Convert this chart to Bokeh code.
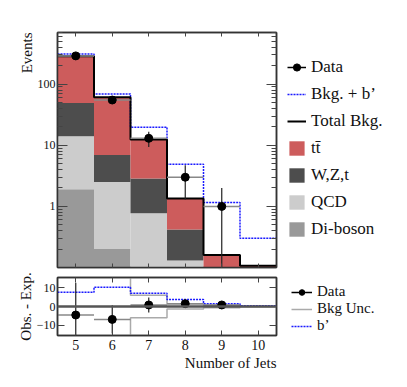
from bokeh.plotting import figure
from bokeh.models import (FixedTicker, LogAxis, LinearAxis, Legend, LegendItem,
                          Title, Span, Range1d, BasicTickFormatter)
from bokeh.layouts import column, row
from bokeh.embed import file_html
from bokeh.resources import INLINE

# ---------------- data ----------------
bins = [5, 6, 7, 8, 9, 10]
edges = [4.5, 5.5, 6.5, 7.5, 8.5, 9.5, 10.5]
diboson = [1.9, 0.2, 0.0, 0.0, 0.0, 0.0]
qcd = [12.1, 2.3, 0.77, 0.13, 0.0, 0.0]
wzt = [35.0, 4.4, 2.1, 0.29, 0.0, 0.0]
ttbar = [238.0, 54.0, 9.6, 0.93, 0.16, 0.107]
bkg_plus_bprime = [310.0, 69.0, 19.7, 4.9, 1.16, 0.30]

data_bins = [5, 6, 7, 8, 9]
data = [290, 55, 13, 3, 1]
data_err = [17.0, 7.4, 3.6, 1.7, 1.0]

diff_data = [-4.5, -6.8, 0.8, 1.5, 0.8]
diff_err = [17.0, 7.4, 3.9, 1.7, 1.0]
bprime_diff = [7.5, 10.2, 7.0, 3.7, 1.4, 0.4]
bkg_unc = [20.0, 20.0, 6.0, 1.3, 0.7, 0.1]

y_tick_vals = [1, 10, 100]
ratio_tick_vals = [-10, 0, 10]

# ---------------- style ----------------
FONT = "Liberation Serif"
C_TT = "#cd5c5c"
C_WZT = "#4d4d4d"
C_QCD = "#cccccc"
C_DIB = "#999999"
C_BP = "#1a1aff"
C_UNC = "#aaaaaa"
FLOOR = 1e-3
MAIN_W = 284
LEG_W = 107
TOP_H = 272
BOT_H = 107

lefts = edges[:-1]
rights = edges[1:]


def style_axis(ax, ticks, labels=True, tick_in=8, minor_in=4, size="13px", standoff=3):
    ax.major_tick_in = tick_in
    ax.major_tick_out = 0
    ax.minor_tick_in = minor_in
    ax.minor_tick_out = 0
    ax.major_tick_line_color = "#444444"
    ax.minor_tick_line_color = "#444444"
    ax.axis_line_color = "#333333"
    ax.axis_line_width = 1.5
    ax.major_label_text_font = FONT
    ax.major_label_text_color = "#111111"
    ax.major_label_standoff = standoff
    ax.major_label_text_font_size = size
    if not labels:
        ax.major_label_standoff = 0
        ax.major_label_text_font_size = "1px"
        ax.major_label_overrides = {t: "" for t in ticks}


def make_title(text, align, standoff=0):
    return Title(text=text, align=align, text_font=FONT, text_font_size="15px",
                 text_font_style="normal", text_color="#111111", standoff=standoff)


# ---------------- top panel ----------------
top = figure(width=MAIN_W, height=TOP_H, x_range=Range1d(4.5, 10.5), y_range=Range1d(0.1, 700),
             y_axis_type="log", output_backend="svg", toolbar_location=None,
             min_border_left=57, min_border_right=8, min_border_top=32, min_border_bottom=5)
top.grid.visible = False
top.outline_line_color = "#333333"
top.outline_line_width = 1.5

minor_log = [m * 10 ** k for k in range(-1, 3) for m in range(2, 10)]
top.yaxis.ticker = FixedTicker(ticks=y_tick_vals, minor_ticks=minor_log)
top.yaxis.formatter = BasicTickFormatter()
style_axis(top.yaxis[0], y_tick_vals, labels=True, tick_in=10, minor_in=5, size="12px", standoff=2)
top.xaxis.ticker = FixedTicker(ticks=bins)
style_axis(top.xaxis[0], bins, labels=False, tick_in=4, minor_in=0)
top.xaxis.minor_tick_line_color = None

ax_r = LogAxis(ticker=FixedTicker(ticks=y_tick_vals, minor_ticks=minor_log))
style_axis(ax_r, y_tick_vals, labels=False, tick_in=10, minor_in=5)
top.add_layout(ax_r, "right")
ax_t = LinearAxis(ticker=FixedTicker(ticks=bins))
style_axis(ax_t, bins, labels=False, tick_in=4, minor_in=0)
ax_t.minor_tick_line_color = None
top.add_layout(ax_t, "above")
top.add_layout(make_title("Events", "right", 0), "left")

# stacked histograms
cum = [0.0] * 6
stack_specs = [("Di-boson", diboson, C_DIB), ("QCD", qcd, C_QCD),
               ("W,Z,t", wzt, C_WZT), ("tt\u0304", ttbar, C_TT)]
stack_edges = []
for name, vals, col in stack_specs:
    bottoms = [max(c, FLOOR) for c in cum]
    cum = [c + v for c, v in zip(cum, vals)]
    tops = [max(c, FLOOR) for c in cum]
    stack_edges.append((name, col, bottoms, tops))
    top.quad(left=lefts, right=rights, bottom=bottoms, top=tops,
             fill_color=col, line_color=None)
total_bkg = cum

top.step(edges, bkg_plus_bprime + [bkg_plus_bprime[-1]], mode="after",
         line_color=C_BP, line_width=1.5, line_dash="2 1")
top.step(edges, total_bkg + [total_bkg[-1]], mode="after",
         line_color="black", line_width=2)

top.segment(x0=[b - 0.5 for b in data_bins], x1=[b + 0.5 for b in data_bins],
            y0=data, y1=data, line_color="#888888", line_width=1.5)
top.segment(x0=data_bins, x1=data_bins,
            y0=[max(d - e, FLOOR) for d, e in zip(data, data_err)],
            y1=[d + e for d, e in zip(data, data_err)],
            line_color="#222222", line_width=1.2)
top.scatter(data_bins, data, size=8, color="black")

# ---------------- ratio panel ----------------
bot = figure(width=MAIN_W, height=BOT_H, x_range=top.x_range, y_range=Range1d(-15.3, 15.3),
             output_backend="svg", toolbar_location=None,
             min_border_left=57, min_border_right=8, min_border_top=5, min_border_bottom=44)
bot.grid.visible = False
bot.outline_line_color = "#333333"
bot.outline_line_width = 1.5
bot.xaxis.ticker = FixedTicker(ticks=bins)
style_axis(bot.xaxis[0], bins, labels=True, tick_in=5, minor_in=0, size="14px", standoff=4)
bot.xaxis.minor_tick_line_color = None
bot.yaxis.ticker = FixedTicker(ticks=ratio_tick_vals)
style_axis(bot.yaxis[0], ratio_tick_vals, labels=True, tick_in=7, minor_in=0, size="12px", standoff=2)
bot.yaxis.minor_tick_line_color = None
b_r = LinearAxis(ticker=FixedTicker(ticks=ratio_tick_vals))
style_axis(b_r, ratio_tick_vals, labels=False, tick_in=7, minor_in=0)
b_r.minor_tick_line_color = None
bot.add_layout(b_r, "right")
b_t = LinearAxis(ticker=FixedTicker(ticks=bins))
style_axis(b_t, bins, labels=False, tick_in=5, minor_in=0)
b_t.minor_tick_line_color = None
bot.add_layout(b_t, "above")
bot.add_layout(make_title("Obs. - Exp.", "center", 0), "left")
bot.add_layout(make_title("Number of Jets", "right", 0), "below")

bot.add_layout(Span(location=0, dimension="width", line_color="#555555", line_width=2.5))
bot.step(edges, bkg_unc + [bkg_unc[-1]], mode="after", line_color=C_UNC, line_width=1.5)
bot.step(edges, [-u for u in bkg_unc] + [-bkg_unc[-1]], mode="after",
         line_color=C_UNC, line_width=1.5)
bot.step(edges, bprime_diff + [bprime_diff[-1]], mode="after",
         line_color=C_BP, line_width=1.5, line_dash="2 1")
bot.segment(x0=[b - 0.5 for b in data_bins], x1=[b + 0.5 for b in data_bins],
            y0=diff_data, y1=diff_data, line_color="#888888", line_width=1.5)
bot.segment(x0=data_bins, x1=data_bins,
            y0=[d - e for d, e in zip(diff_data, diff_err)],
            y1=[d + e for d, e in zip(diff_data, diff_err)],
            line_color="#222222", line_width=1.2)
bot.scatter(data_bins, diff_data, size=8, color="black")


# ---------------- legend panels ----------------
# The legend panels reuse the same series, drawn outside their view,
# so only the legend swatches are visible.
def legend_fig(h, top_border, left_border):
    f = figure(width=LEG_W, height=h, x_range=Range1d(-1, 0), y_range=Range1d(-1, 0),
               output_backend="svg", toolbar_location=None,
               x_axis_location=None, y_axis_location=None,
               min_border_left=left_border, min_border_right=0,
               min_border_top=top_border, min_border_bottom=0)
    f.grid.visible = False
    f.outline_line_color = None
    return f


LEG_STYLE = dict(border_line_color=None, background_fill_alpha=0, label_text_font=FONT,
                 label_text_color="#111111", padding=0, margin=0)

lt = legend_fig(TOP_H, 57, 3)
l_dat_line = lt.line(data_bins, data, line_color="black", line_width=1.5)
l_dat_pt = lt.scatter(data_bins, data, size=8, color="black")
l_bp = lt.line(bins, bkg_plus_bprime, line_color=C_BP, line_width=1.5, line_dash="2 1")
l_tot = lt.line(bins, total_bkg, line_color="black", line_width=2)
items = [LegendItem(label="Data", renderers=[l_dat_line, l_dat_pt]),
         LegendItem(label="Bkg. + b\u2019", renderers=[l_bp]),
         LegendItem(label="Total Bkg.", renderers=[l_tot])]
for name, col, bottoms, tops in reversed(stack_edges):
    r = lt.quad(left=lefts, right=rights, bottom=bottoms, top=tops,
                fill_color=col, line_color=None)
    items.append(LegendItem(label=name, renderers=[r]))
lt.add_layout(Legend(items=items, location="top_left", glyph_width=19, glyph_height=18,
                     label_height=20, spacing=7, label_standoff=5,
                     label_text_font_size="17px", **LEG_STYLE))

lb = legend_fig(BOT_H, 0, 0)
lb_dat_line = lb.line(data_bins, diff_data, line_color="black", line_width=1.5)
lb_dat_pt = lb.scatter(data_bins, diff_data, size=8, color="black")
lb_unc = lb.line(bins, bkg_unc, line_color=C_UNC, line_width=1.5)
lb_bp = lb.line(bins, bprime_diff, line_color=C_BP, line_width=1.5, line_dash="2 1")
bottom_entries = [("Data", [lb_dat_line, lb_dat_pt], 79),
                  ("Bkg Unc.", [lb_unc], 62),
                  ("b\u2019", [lb_bp], 45)]
for lab, rends, ypos in bottom_entries:
    lb.add_layout(Legend(items=[LegendItem(label=lab, renderers=rends)],
                         location=(4, ypos), glyph_width=21, glyph_height=14,
                         label_height=14, spacing=0, label_standoff=5,
                         label_text_font_size="15px", **LEG_STYLE))

layout = row(column(top, bot), column(lt, lb))
open("out.html", "w").write(file_html(layout, INLINE))
